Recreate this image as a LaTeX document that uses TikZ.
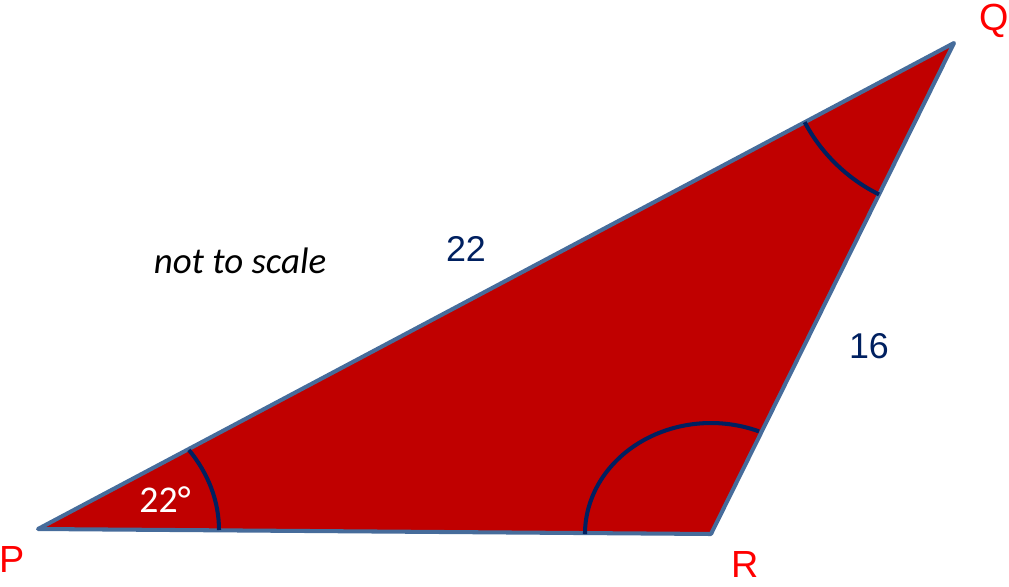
\documentclass[tikz,border=0pt]{standalone}
\usepackage{fontspec}
\setmainfont{Liberation Sans}
\newfontfamily\calib{Carlito}
\definecolor{trired}{RGB}{192,0,0}
\definecolor{edgeblue}{RGB}{70,108,155}
\definecolor{navy}{RGB}{0,32,96}
\definecolor{lblred}{RGB}{255,0,0}

\begin{document}
\begin{tikzpicture}[x=0.02cm, y=0.02cm,
    vlabel/.style={text=lblred, font=\fontsize{21.5}{24}\selectfont, anchor=base, inner sep=0pt},
    side/.style={text=navy, font=\fontsize{20.4}{24}\selectfont, anchor=base, inner sep=0pt},
    anglemark/.style={draw=navy, line width=2.3pt}]
    \useasboundingbox (0,0) rectangle (1009,586);
    \coordinate (P) at (38, 57);
    \coordinate (Q) at (954, 543);
    \coordinate (R) at (711, 52);
    \filldraw[fill=trired, draw=edgeblue, line width=2.3pt, line join=round] (P) -- (Q) -- (R) -- cycle;
    \draw[anglemark] ([shift={(181,-1)}]P) arc[start angle=0, end angle=33.5, x radius=181, y radius=145];
    \draw[anglemark] ([shift={(48,102.6)}]R) arc[start angle=67.6, end angle=180, x radius=126, y radius=111];
    \draw[anglemark] ([shift={(-149.3,-79.2)}]Q) arc[start angle=207.95, end angle=243.66, radius=169];
    \node[vlabel] (lP) at (12, 14) {P};
    \node[vlabel] (lQ) at (994, 555) {Q};
    \node[vlabel] (lR) at (745, 9) {R};
    \node[side] (sPQ) at (466, 324) {22};
    \node[side] (sQR) at (869, 228) {16};
    \node[text=white, font=\calib\fontsize{21.5}{24}\selectfont, anchor=base, inner sep=0pt] (aP) at (165, 74) {22°};
    \node[font=\calib\itshape\fontsize{21}{24}\selectfont, anchor=base, inner sep=0pt] (note) at (240, 313) {not to scale};
\end{tikzpicture}
\end{document}
